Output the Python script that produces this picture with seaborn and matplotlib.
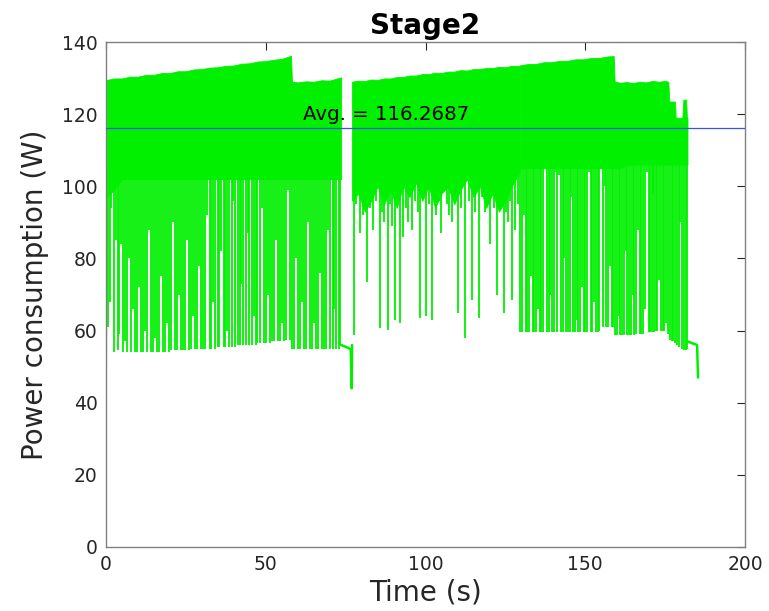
import matplotlib
matplotlib.use("Agg")
import matplotlib.pyplot as plt
import seaborn as sns
import numpy as np

# ---------------- data ----------------
avg_power = 116.2687

# solid band of the dense oscillation: (time s, band bottom W, band top W)
seg1_band = [(0.3, 97, 129.5), (2.5, 99, 129.9), (5, 102, 129.9), (7.5, 102, 130.4), (10, 102, 130.4),
             (12.5, 102, 130.9), (15, 102, 130.9), (17.5, 102, 131.4), (20, 102, 131.4), (22.5, 102, 131.9),
             (25, 102, 131.9), (27.5, 102, 132.4), (30, 102, 132.5), (32.5, 102, 132.9), (35, 102, 133.0),
             (37.5, 102, 133.4), (40, 102, 133.5), (42.5, 102, 134.0), (45, 102, 134.1), (47.5, 102, 134.6),
             (50, 102, 134.7), (52.5, 102, 135.1), (55, 102, 135.3), (57.9, 102, 136.2), (58.2, 102, 129),
             (60, 102, 128.8), (62.5, 102, 129.1), (65, 102, 129.0), (67.5, 102, 129.4), (70, 102, 129.3),
             (72, 102, 129.8), (73.6, 102, 130.2)]
seg2_band = [(77.0, 96, 129), (79, 98, 129.3), (81, 93, 129.2), (83, 96, 129.6), (85, 100, 129.5),
             (87, 95, 129.9), (89, 99, 129.9), (91, 94, 130.3), (93, 100, 130.3), (95, 97, 130.7),
             (97, 101, 130.7), (99, 96, 131.1), (101, 100, 131.1), (103, 94, 131.5), (105, 98, 131.4),
             (107, 100, 131.8), (109, 95, 131.8), (111, 99, 132.2), (113, 102, 132.1), (115, 97, 132.5),
             (117, 100, 132.5), (119, 94, 132.8), (121, 98, 132.8), (123, 93, 133.1), (125, 96, 133.0),
             (127, 100, 133.4), (129.5, 104, 133.4)]
seg3_band = [(129.5, 105, 133.5), (132, 105, 133.9), (134.5, 105, 133.9), (137, 105, 134.4), (139.5, 105, 134.4),
             (142, 105, 134.8), (144.5, 105, 134.8), (147, 105, 135.2), (149.5, 105, 135.2), (152, 105, 135.6),
             (154.5, 105, 135.6), (157, 105, 136.0), (158.9, 105, 136.1), (159.2, 105, 129), (161, 105, 128.7),
             (163, 106, 128.9), (165, 106, 128.6), (167, 106, 129.0), (169, 106, 128.8), (171, 106, 129.2),
             (173, 106, 129.0), (175, 106, 129.2), (176.0, 106, 129), (176.3, 106, 123.5), (178.1, 106, 123.5),
             (178.3, 106, 119), (180.4, 106, 119), (180.7, 106, 124), (181.6, 106, 124), (181.8, 106, 119),
             (182.0, 106, 119)]

# individual downward spikes: (time s, minimum W)
seg1_spikes = [(0.6, 61), (1.1, 68), (1.7, 94), (2.4, 54), (3.0, 85), (3.6, 54.5), (4.1, 59), (4.8, 84),
               (5.4, 54), (6.0, 57), (6.6, 54), (7.2, 80), (7.9, 54), (8.5, 66), (9.1, 54), (9.7, 54),
               (10.4, 72), (11.0, 54), (11.6, 54), (12.2, 60), (12.9, 54), (13.5, 88), (14.1, 54), (14.8, 54),
               (15.4, 58), (16.0, 54), (16.6, 54), (17.3, 75), (17.9, 54), (18.5, 54), (19.2, 62), (19.8, 54),
               (20.4, 54.5), (21.0, 90), (21.7, 54.5), (22.3, 54.5), (22.9, 70), (23.6, 54.5), (24.2, 54.5),
               (24.8, 54.5), (25.4, 85), (26.1, 54.5), (26.7, 55), (27.3, 64), (28.0, 55), (28.6, 55), (29.2, 78),
               (29.8, 55), (30.5, 55), (31.1, 55), (31.7, 92), (32.4, 55), (33.0, 55), (33.6, 68), (34.2, 55),
               (34.9, 55.5), (35.5, 55.5), (36.1, 82), (36.8, 55.5), (37.4, 55.5), (38.0, 60), (38.6, 55.5),
               (39.3, 55.5), (39.9, 96), (40.5, 55.5), (41.2, 56), (41.8, 56), (42.4, 73), (43.0, 56), (43.7, 56),
               (44.3, 87), (44.9, 56), (45.6, 56), (46.2, 64), (46.8, 56), (47.4, 56.5), (48.1, 56.5), (48.7, 94),
               (49.3, 56.5), (50.0, 56.5), (50.6, 70), (51.2, 56.5), (51.8, 57), (52.5, 57), (53.1, 85), (53.7, 57),
               (54.4, 57), (55.0, 62), (55.6, 57), (56.2, 57.5), (56.9, 99), (57.5, 57.5), (58.3, 55), (58.9, 55),
               (59.5, 80), (60.2, 55), (60.8, 55), (61.4, 68), (62.1, 55), (62.7, 55), (63.3, 90), (63.9, 55),
               (64.6, 55), (65.2, 62), (65.8, 55), (66.5, 55), (67.1, 76), (67.7, 55), (68.3, 55), (69.0, 55),
               (69.6, 88), (70.2, 55), (70.9, 55), (71.5, 66), (72.1, 55), (72.8, 55), (73.3, 56)]

seg2_spikes = [(77.6, 58.7), (78.4, 95), (79.5, 87), (80.3, 92), (81.7, 73.4), (82.5, 94), (83.6, 88), (84.6, 96),
               (85.8, 60.7), (86.5, 93), (87.0, 90), (88.3, 60.2), (89.0, 95), (89.5, 89), (90.5, 63), (91.2, 97),
               (92.0, 62), (93.0, 86), (93.8, 94), (94.5, 90), (95.8, 88), (96.8, 96), (97.5, 93), (98.3, 63.5),
               (99.2, 97), (100.2, 64), (101.0, 95), (102.0, 63), (102.6, 98), (103.3, 92), (104.2, 96), (104.9, 87),
               (105.8, 99), (106.7, 95), (107.5, 92), (108.3, 90), (109.3, 97), (110.2, 65), (111.2, 94), (112.4, 58),
               (113.5, 96), (114.6, 68.5), (115.6, 93), (116.7, 63.5), (117.7, 97), (118.6, 93), (119.4, 96),
               (120.2, 84), (121.3, 94), (122.4, 70), (123.2, 95), (123.9, 97), (124.6, 65), (125.3, 93),
               (125.8, 90), (126.5, 96), (127.1, 68.5), (128.0, 88), (128.8, 95)]

seg3_spikes = [(129.7, 59.6), (130.2, 59.6), (130.8, 92), (131.3, 59.6), (131.9, 59.6), (132.4, 59.6), (133.0, 75),
               (133.5, 59.6), (134.1, 59.6), (134.6, 59.6), (135.2, 66), (135.7, 59.6), (136.3, 59.6), (136.8, 59.6),
               (137.4, 106), (137.9, 59.6), (138.5, 59.6), (139.0, 70), (139.6, 59.6), (140.1, 59.6), (140.7, 104),
               (141.2, 59.6), (141.8, 103), (142.3, 59.6), (142.9, 59.6), (143.4, 80), (144.0, 59.6), (144.5, 59.6),
               (145.1, 59.6), (145.6, 97), (146.2, 59.6), (146.7, 59.6), (147.3, 63), (147.8, 59.6), (148.4, 59.6),
               (148.9, 72), (149.5, 59.6), (150.0, 59.6), (150.6, 59.6), (151.1, 104), (151.7, 59.6), (152.2, 59.6),
               (152.8, 68), (153.3, 59.6), (153.9, 59.6), (154.4, 60), (155.0, 106), (155.5, 61), (156.1, 100),
               (156.6, 61), (157.2, 61), (157.7, 78), (158.3, 61), (158.8, 61), (159.4, 58.8), (159.9, 58.8),
               (160.5, 64), (161.0, 58.8), (161.6, 58.8), (162.1, 58.8), (162.7, 82), (163.2, 58.8), (163.8, 58.8),
               (164.3, 58.8), (164.9, 70), (165.4, 58.8), (166.0, 59), (166.5, 88), (167.1, 59), (167.6, 59),
               (168.2, 59), (168.7, 66), (169.3, 104), (169.8, 59.5), (170.4, 59.5), (170.9, 59.5), (171.2, 98),
               (171.5, 59.5), (172.0, 60), (172.6, 60), (173.1, 74), (173.7, 60), (174.2, 60), (174.8, 60),
               (175.3, 62), (175.9, 59), (176.4, 57.5), (177.0, 57), (177.5, 57), (178.1, 56.5), (178.6, 56),
               (179.2, 55.5), (179.7, 90), (180.3, 55), (180.8, 54.6), (181.4, 54.6), (181.8, 55)]

# idle periods (single trace, no oscillation)
start_t = [0.0, 0.3]
start_w = [10, 129]
gap_t = [73.6, 74.2, 75.0, 75.8, 76.6, 76.9, 77.0]
gap_w = [56, 55.8, 55.5, 55.2, 54.8, 44, 56]
tail_t = [182.0, 182.6, 183.4, 184.2, 185.0, 185.3]
tail_w = [57, 56.8, 56.5, 56.3, 56, 47]

x_ticks = [0, 50, 100, 150, 200]
y_ticks = [0, 20, 40, 60, 80, 100, 120, 140]

# ---------------- style ----------------
sns.set_style("white")
plt.rcParams['font.family'] = ['DejaVu Sans']
GREEN = '#00f000'
BLUE = '#3355ee'
TXT = '#262626'

fig = plt.figure(figsize=(7.69, 6.11), dpi=100)
ax = fig.add_axes([106/769, 1 - 547/611, (745 - 106)/769, (547 - 42)/611])

for band in [seg1_band, seg2_band, seg3_band]:
    bt, bb, btop = zip(*band)
    ax.fill_between(bt, bb, btop, color=GREEN, lw=0.6, edgecolor=GREEN, zorder=2)

for sp in [seg1_spikes, seg2_spikes, seg3_spikes]:
    st, sl = zip(*sp)
    ax.vlines(st, sl, 106, color=GREEN, lw=1.3, zorder=2, antialiased=True)

for tt, ww, lw in [(start_t, start_w, 1.0), (gap_t, gap_w, 1.8), (tail_t, tail_w, 1.8)]:
    sns.lineplot(x=tt, y=ww, ax=ax, color=GREEN, lw=lw, sort=False, estimator=None, zorder=2)

sns.lineplot(x=[0, 200], y=[avg_power, avg_power], ax=ax, color=BLUE, lw=0.9, zorder=3)
ax.text(61.7, 118.4, f"Avg. = {avg_power}", fontsize=14.2, color='black', ha='left', va='baseline', zorder=4)

ax.set_xlim(0, 200)
ax.set_ylim(0, 140)
ax.set_xticks(x_ticks)
ax.set_yticks(y_ticks)
ax.tick_params(direction='in', length=6, width=0.8, color='#262626', top=True, right=True,
               labelsize=13.5, labelcolor=TXT, pad=6)
for s in ax.spines.values():
    s.set_color('#808080')
    s.set_linewidth(1.0)

ax.set_xlabel("Time (s)", fontsize=20, color=TXT, labelpad=3)
ax.set_ylabel("Power consumption (W)", fontsize=20, color=TXT, labelpad=9)
ax.set_title("Stage2", fontsize=20, fontweight='bold', color='black', pad=6)

fig.savefig("out.png", dpi=100)
